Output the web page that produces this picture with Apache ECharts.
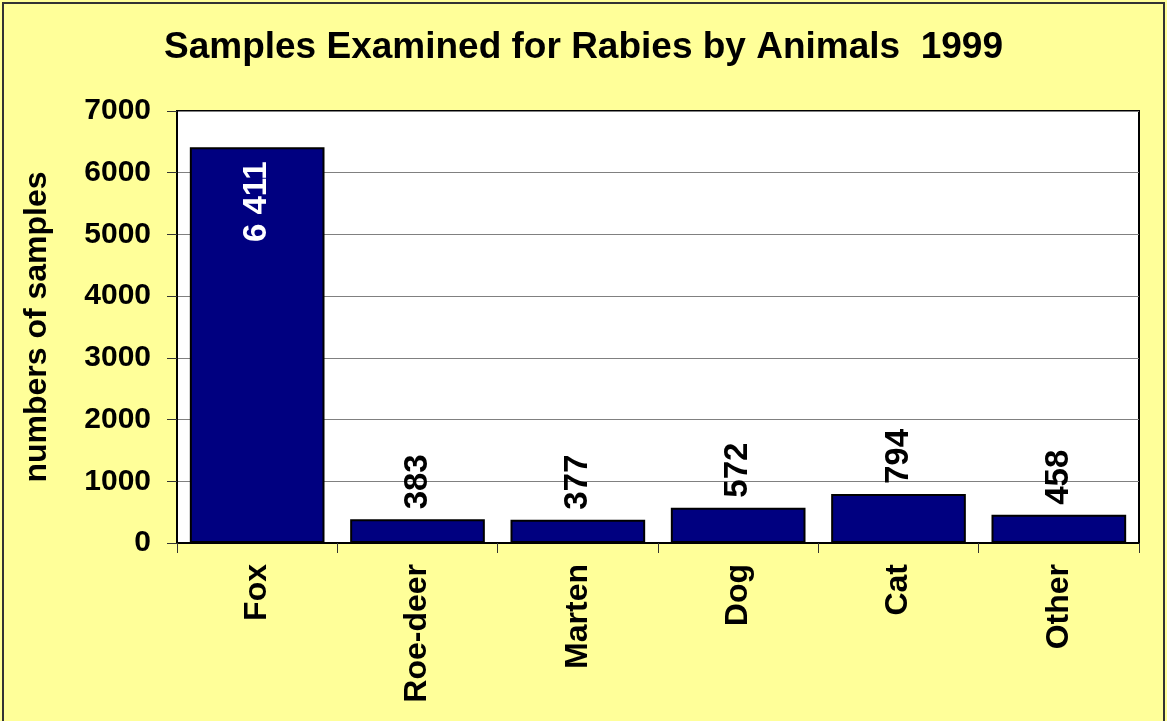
<!DOCTYPE html>
<html>
<head>
<meta charset="utf-8">
<script src="https://cdn.jsdelivr.net/npm/echarts@6/dist/echarts.min.js"></script>
<style>
  html, body { margin: 0; padding: 0; background: #FFFF99; }
  #chart { width: 1167px; height: 721px; }
</style>
</head>
<body>
<div id="chart"></div>
<script>
const animals = ['Fox', 'Roe-deer', 'Marten', 'Dog', 'Cat', 'Other']
const samples = [6411, 383, 377, 572, 794, 458]
const valueLabels = ['6 411', '383', '377', '572', '794', '458']
const yTicks = [0, 7000, 1000] // min, max, interval

const chart = echarts.init(document.getElementById('chart'))

const font = '"Liberation Sans", Arial, sans-serif'

// the tall fox bar has its label inside, the rest sit above the bar
const barData = samples.map((v, i) => {
  const inside = v > 3000
  return {
    value: v,
    label: {
      show: true,
      formatter: valueLabels[i],
      position: inside ? 'insideTop' : 'top',
      distance: inside ? 14 : 10,
      rotate: 90,
      align: inside ? 'right' : 'left',
      verticalAlign: 'middle',
      color: inside ? '#fff' : '#000',
      fontFamily: font,
      fontWeight: 'bold',
      fontSize: 33
    }
  }
})

const option = {
  backgroundColor: '#FFFF99',
  animation: false,
  title: {
    text: 'Samples Examined for Rabies by Animals  1999',
    left: 'center',
    top: 24,
    textStyle: { fontFamily: font, fontWeight: 'bold', fontSize: 37, color: '#000' }
  },
  graphic: [{
    type: 'rect',
    shape: { x: 3, y: 3, width: 1161, height: 730 },
    style: { fill: 'none', stroke: '#333', lineWidth: 2 },
    silent: true
  }],
  grid: {
    left: 177,
    top: 111,
    right: 28,
    bottom: 178,
    show: true,
    backgroundColor: '#fff',
    borderColor: '#000',
    borderWidth: 2
  },
  xAxis: {
    type: 'category',
    data: animals,
    axisLine: { lineStyle: { color: '#000', width: 2 } },
    axisTick: { show: true, length: 10, lineStyle: { color: '#333' } },
    axisLabel: {
      rotate: 90,
      margin: 21,
      color: '#000',
      fontFamily: font,
      fontWeight: 'bold',
      fontSize: 32
    }
  },
  yAxis: {
    type: 'value',
    min: yTicks[0],
    max: yTicks[1],
    interval: yTicks[2],
    name: 'numbers of samples',
    nameLocation: 'middle',
    nameGap: 124,
    nameTextStyle: { fontFamily: font, fontWeight: 'bold', fontSize: 32, color: '#000' },
    axisLine: { show: true, lineStyle: { color: '#000', width: 2 } },
    axisTick: { show: true, length: 10, lineStyle: { color: '#333' } },
    axisLabel: {
      margin: 26,
      formatter: v => String(v),
      color: '#000',
      fontFamily: font,
      fontWeight: 'bold',
      fontSize: 30
    },
    splitLine: { lineStyle: { color: '#808080', width: 1 } }
  },
  series: [{
    type: 'bar',
    data: barData,
    barWidth: '84%',
    itemStyle: { color: '#000080', borderColor: '#000', borderWidth: 2 }
  }]
}

chart.setOption(option)
</script>
</body>
</html>
